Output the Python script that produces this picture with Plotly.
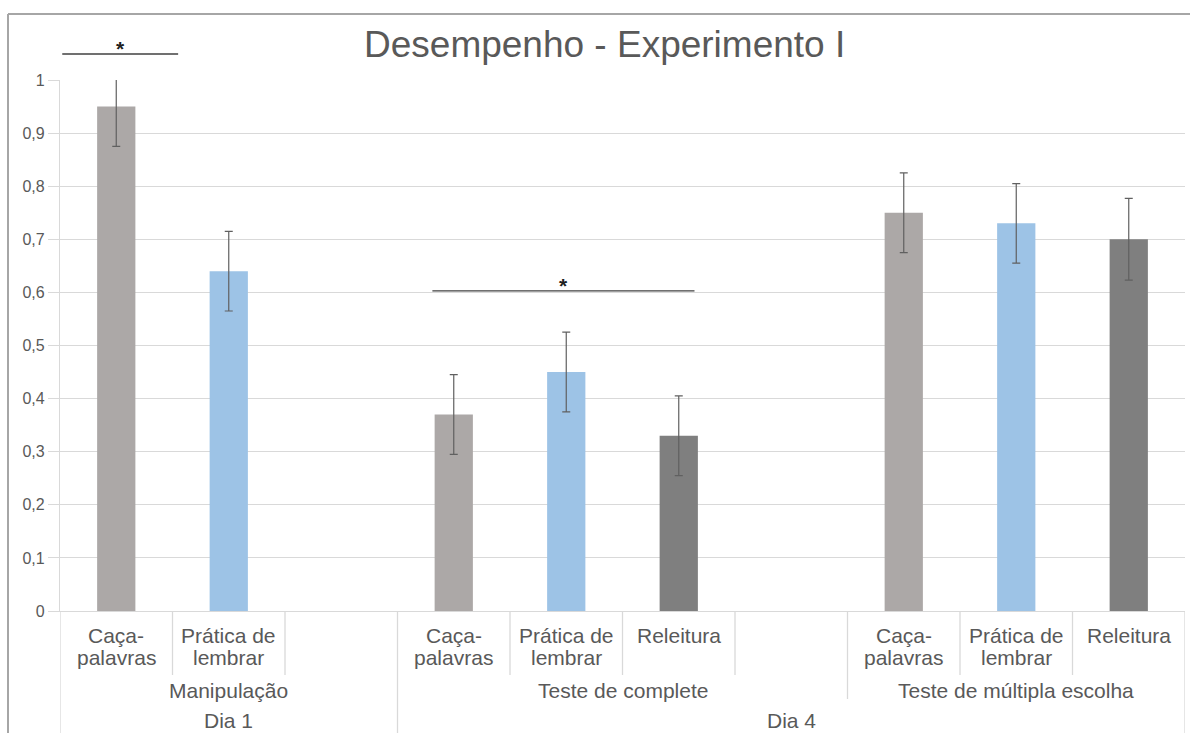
import plotly.graph_objects as go

# Category axis: one entry per slot (day / test / condition); "" marks an empty slot
nivel_dia = ["Dia 1", "Dia 1", "Dia 1",
             "Dia 4", "Dia 4", "Dia 4", "Dia 4",
             "Dia 4", "Dia 4", "Dia 4"]
nivel_teste = ["Manipulação", "Manipulação", "Manipulação",
               "Teste de complete", "Teste de complete", "Teste de complete", "Teste de complete",
               "Teste de múltipla escolha", "Teste de múltipla escolha", "Teste de múltipla escolha"]
nivel_condicao = ["Caça-palavras", "Prática de lembrar", "",
                  "Caça-palavras", "Prática de lembrar", "Releitura", "",
                  "Caça-palavras", "Prática de lembrar", "Releitura"]

# Text of each condition label, one string per line
linhas_condicao = {
    "Caça-palavras": ["Caça-", "palavras"],
    "Prática de lembrar": ["Prática de", "lembrar"],
    "Releitura": ["Releitura"],
    "": [],
}

# Mean performance and error (per slot, None where no bar)
desempenho = {
    "Caça-palavras":      [0.95, None, None, 0.37, None, None, None, 0.75, None, None],
    "Prática de lembrar": [None, 0.64, None, None, 0.45, None, None, None, 0.73, None],
    "Releitura":          [None, None, None, None, None, 0.33, None, None, None, 0.70],
}
erro = {
    "Caça-palavras":      [0.075, None, None, 0.075, None, None, None, 0.075, None, None],
    "Prática de lembrar": [None, 0.075, None, None, 0.075, None, None, None, 0.075, None],
    "Releitura":          [None, None, None, None, None, 0.075, None, None, None, 0.077],
}

# Significance brackets: (first slot edge, last slot edge, height)
significancia = [(0.02, 1.05, 1.049), (3.31, 5.64, 0.603)]

cores = {"Caça-palavras": "#aca8a7", "Prática de lembrar": "#9dc3e6", "Releitura": "#7f7f7f"}
texto = "#595959"
grade = "#d9d9d9"
fonte = "Liberation Sans, Arial, sans-serif"

n = len(nivel_condicao)
fig = go.Figure()

for cond, vals in desempenho.items():
    xs = [i + 0.5 for i, v in enumerate(vals) if v is not None]
    ys = [v for v in vals if v is not None]
    es = [e for e in erro[cond] if e is not None]
    fig.add_trace(go.Bar(
        x=xs, y=ys, width=0.34, name=cond,
        marker=dict(color=cores[cond], line=dict(width=0)),
        error_y=dict(type="data", array=es, visible=True,
                     color="#606060", thickness=1.2, width=4),
        showlegend=False,
    ))

# paper-y helper for the area below the plot (plot height 531 px)
def abaixo(px):
    return -px / 531.0

shapes = []
annotations = []

# condition labels (level 1)
for i, cond in enumerate(nivel_condicao):
    for k, linha in enumerate(linhas_condicao[cond]):
        annotations.append(dict(x=i + 0.5, y=abaixo(24 + 22 * k), xref="x", yref="paper",
                                text=linha, showarrow=False, yanchor="middle",
                                font=dict(family=fonte, size=21, color=texto)))

def grupos(nivel):
    out = []
    start = 0
    for i in range(1, n + 1):
        if i == n or nivel[i] != nivel[start]:
            out.append((nivel[start], start, i))
            start = i
    return out

# test labels (level 2) and day labels (level 3)
for nome, a, b in grupos(nivel_teste):
    annotations.append(dict(x=(a + b) / 2, y=abaixo(79), xref="x", yref="paper",
                            text=nome, showarrow=False, yanchor="middle",
                            font=dict(family=fonte, size=21, color=texto)))
for nome, a, b in grupos(nivel_dia):
    annotations.append(dict(x=(a + b) / 2, y=abaixo(109), xref="x", yref="paper",
                            text=nome, showarrow=False, yanchor="middle",
                            font=dict(family=fonte, size=21, color=texto)))

# divider ticks between categories at each level
limites_teste = {a for _, a, _ in grupos(nivel_teste)} | {n}
limites_dia = {a for _, a, _ in grupos(nivel_dia)} | {n}
for i in range(n + 1):
    if i in limites_dia:
        fundo = 122
    elif i in limites_teste:
        fundo = 88
    else:
        fundo = 64
    shapes.append(dict(type="line", xref="x", yref="paper", x0=i, x1=i,
                       y0=0, y1=abaixo(fundo), line=dict(color=grade, width=1.3)))

# significance brackets
for x0, x1, h in significancia:
    shapes.append(dict(type="line", xref="x", yref="paper", x0=x0, x1=x1, y0=h, y1=h,
                       line=dict(color="#404040", width=1.3)))
    annotations.append(dict(x=(x0 + x1) / 2, y=h, xref="x", yref="paper", text="<b>*</b>",
                            showarrow=False, yanchor="bottom", yshift=-8,
                            font=dict(family=fonte, size=21, color="#202020")))

# outer frame (left and top edges)
fx = (8 - 60) / 1125.0
fy = (611 - 14) / 531.0
shapes.append(dict(type="line", xref="paper", yref="paper", x0=fx, x1=fx, y0=fy, y1=-0.25,
                   line=dict(color="#a6a6a6", width=2)))
shapes.append(dict(type="line", xref="paper", yref="paper", x0=fx, x1=1.01, y0=fy, y1=fy,
                   line=dict(color="#a6a6a6", width=2)))

# chart title
annotations.append(dict(x=0.484, y=(611 - 45) / 531.0, xref="paper", yref="paper",
                        text="Desempenho - Experimento I", showarrow=False,
                        yanchor="middle", xanchor="center",
                        font=dict(family=fonte, size=37, color=texto)))

fig.update_layout(
    width=1190, height=733,
    margin=dict(l=60, r=5, t=80, b=122),
    paper_bgcolor="white", plot_bgcolor="white",
    barmode="overlay",
    separators=",.",
    shapes=shapes, annotations=annotations,
    xaxis=dict(range=[0, n], showgrid=False, zeroline=False, showticklabels=False,
               ticks="", showline=True, linecolor=grade, linewidth=1.3, fixedrange=True),
    yaxis=dict(range=[0, 1], tickvals=[i / 10 for i in range(11)],
               showgrid=True, gridcolor=grade, gridwidth=1.3, zeroline=False,
               showline=True, linecolor=grade, linewidth=1.3,
               ticks="outside", ticklen=11, tickcolor=grade, tickwidth=1.3,
               tickfont=dict(family=fonte, size=16, color=texto), fixedrange=True),
)

fig.write_html("out.html")
